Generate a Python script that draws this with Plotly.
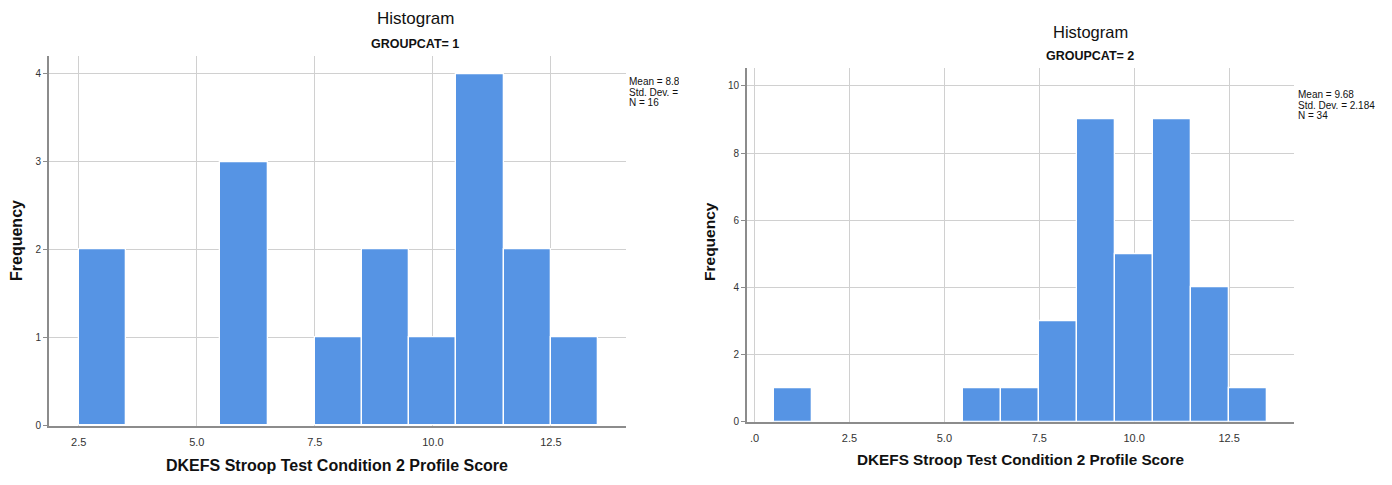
import plotly.graph_objects as go

# Group 1: bin centres (width 1) and frequencies
g1_centers = [3, 6, 8, 9, 10, 11, 12, 13]
g1_counts = [2, 3, 1, 2, 1, 4, 2, 1]
g1_stats = ["Mean = 8.81", "Std. Dev. = 3.167", "N = 16"]

# Group 2: bin centres (width 1) and frequencies
g2_centers = [1, 6, 7, 8, 9, 10, 11, 12, 13]
g2_counts = [1, 1, 1, 3, 9, 5, 9, 4, 1]
g2_stats = ["Mean = 9.68", "Std. Dev. = 2.184", "N = 34"]

x_tickvals = [0, 2.5, 5.0, 7.5, 10.0, 12.5]
g1_xticktext = ["", "2.5", "5.0", "7.5", "10.0", "12.5"]
g2_xticktext = [".0", "2.5", "5.0", "7.5", "10.0", "12.5"]
g1_yticks = [0, 1, 2, 3, 4]
g2_yticks = [0, 2, 4, 6, 8, 10]

W, H = 1392, 485
BAR = "#5694e4"
GRID = "#d0d0d0"
AXIS = "#8c8c8c"
FONT = "Liberation Sans, Arial, sans-serif"
STAT_SIZE = 10
STAT_STEP = 10.4


def px(x):
    return x / W


def py(y):
    return 1 - y / H


fig = go.Figure()
fig.add_trace(go.Bar(x=g1_centers, y=g1_counts, width=1, xaxis="x", yaxis="y",
                     marker=dict(color=BAR, line=dict(color="white", width=1.3)),
                     showlegend=False, hoverinfo="skip"))
fig.add_trace(go.Bar(x=g2_centers, y=g2_counts, width=1, xaxis="x2", yaxis="y2",
                     marker=dict(color=BAR, line=dict(color="white", width=1.3)),
                     showlegend=False, hoverinfo="skip"))

# Panel 1 statistics box: its frame ends at x=679, so the text is clipped there
STAT_TOP, STAT_BOT = 75, 115
fig.add_trace(go.Scatter(
    x=[0.0] * len(g1_stats),
    y=[(STAT_BOT - (84 + STAT_STEP * i)) / (STAT_BOT - STAT_TOP) for i in range(len(g1_stats))],
    mode="text", text=g1_stats, textposition="middle right", cliponaxis=True,
    textfont=dict(family=FONT, size=STAT_SIZE, color="#111"),
    xaxis="x3", yaxis="y3", showlegend=False, hoverinfo="skip"))

common_x = dict(showgrid=True, gridcolor=GRID, gridwidth=1, zeroline=False,
                showline=True, linecolor=AXIS, linewidth=2, ticks="",
                ticklabelstandoff=5,
                tickfont=dict(family=FONT, size=11, color="#333"),
                tickmode="array", tickvals=x_tickvals, fixedrange=True)
common_y = dict(showgrid=True, gridcolor=GRID, gridwidth=1, zeroline=False,
                showline=True, linecolor=AXIS, linewidth=2, ticks="outside",
                ticklen=4, tickcolor=AXIS, tickfont=dict(family=FONT, size=10, color="#333"),
                tickmode="array", fixedrange=True)
hidden = dict(visible=False, showgrid=False, zeroline=False, fixedrange=True)

fig.update_layout(
    width=W, height=H,
    margin=dict(l=0, r=0, t=0, b=0),
    paper_bgcolor="white", plot_bgcolor="white",
    bargap=0,
    xaxis=dict(common_x, domain=[px(49), px(626)], range=[1.87, 14.09],
               ticktext=g1_xticktext, anchor="y"),
    yaxis=dict(common_y, domain=[py(431), py(57)], range=[0, 4.2],
               tickvals=g1_yticks, anchor="x"),
    xaxis2=dict(common_x, domain=[px(747), px(1294)], range=[-0.2, 14.21],
                ticktext=g2_xticktext, anchor="y2"),
    yaxis2=dict(common_y, domain=[py(427), py(69)], range=[0, 10.53],
                tickvals=g2_yticks, anchor="x2"),
    xaxis3=dict(hidden, domain=[px(629), px(679)], range=[0, 1], anchor="y3"),
    yaxis3=dict(hidden, domain=[py(STAT_BOT), py(STAT_TOP)], range=[0, 1], anchor="x3"),
)

annots = []


def text(x, y, s, size, bold=False, angle=0, xanchor="center"):
    annots.append(dict(x=px(x), y=py(y), xref="paper", yref="paper", text=s,
                       showarrow=False, textangle=angle, xanchor=xanchor, yanchor="middle",
                       font=dict(family=FONT, size=size, color="#111",
                                 weight="bold" if bold else "normal")))


# Panel 1 labels
text(415, 19, "Histogram", 17)
text(415, 45, "GROUPCAT= 1", 12.5, bold=True)
text(337, 471, "DKEFS Stroop Test Condition 2 Profile Score", 16, bold=True)
text(17, 244, "Frequency", 16, bold=True, angle=-90)

# Panel 2 labels
text(1090, 32, "Histogram", 16.5)
text(1090, 57, "GROUPCAT= 2", 12.5, bold=True)
text(1020, 465, "DKEFS Stroop Test Condition 2 Profile Score", 15.3, bold=True)
text(710, 245, "Frequency", 15.5, bold=True, angle=-90)
for i, s in enumerate(g2_stats):
    text(1296, 96 + STAT_STEP * i, s, STAT_SIZE, xanchor="left")

fig.update_layout(annotations=annots)

fig.write_html("out.html")
